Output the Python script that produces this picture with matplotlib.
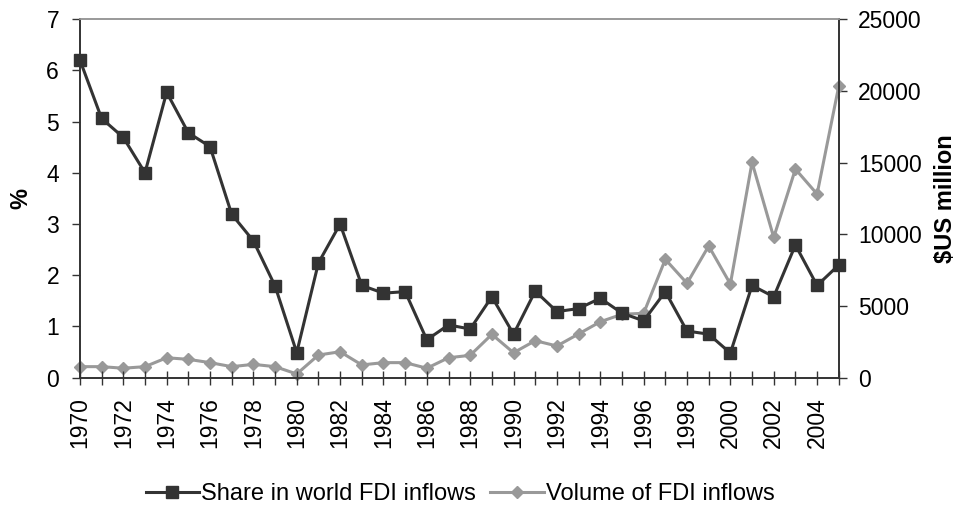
import matplotlib
matplotlib.use("Agg")
import matplotlib.pyplot as plt
from matplotlib.lines import Line2D

years = list(range(1970, 2006))
share = [6.2, 5.06, 4.69, 4.0, 5.57, 4.78, 4.51, 3.19, 2.67, 1.79,
         0.49, 2.24, 3.0, 1.80, 1.65, 1.68, 0.74, 1.03, 0.95, 1.58,
         0.85, 1.69, 1.29, 1.35, 1.55, 1.26, 1.11, 1.68, 0.91, 0.85,
         0.48, 1.80, 1.58, 2.59, 1.80, 2.20]
volume = [770, 770, 660, 770, 1390, 1280, 1050, 770, 930, 770,
          260, 1580, 1810, 890, 1050, 1050, 660, 1390, 1560, 3020,
          1740, 2580, 2210, 3050, 3900, 4420, 4490, 8250, 6580, 9180,
          6530, 15010, 9780, 14540, 12800, 20330]
xtick_years = list(range(1970, 2005, 2))

dark = "#333333"
grey = "#999999"

plt.rcParams["font.family"] = ["Liberation Sans", "DejaVu Sans"]
plt.rcParams["font.size"] = 16.5

fig = plt.figure(figsize=(9.63, 5.08), dpi=100)
ax = fig.add_axes([0.083, 0.2565, 0.788, 0.706])
ax2 = ax.twinx()

ax.plot(years, share, color=dark, lw=2.2, marker="s", ms=8.5, zorder=3,
        clip_on=False)
ax2.plot(years, volume, color=grey, lw=2.2, marker="D", ms=6.5, zorder=2,
         clip_on=False)
ax.set_zorder(ax2.get_zorder() + 1)
ax.patch.set_visible(False)

ax.set_xlim(1970, 2005)
ax.set_ylim(0, 7)
ax2.set_ylim(0, 25000)
ax.set_yticks(range(0, 8))
ax2.set_yticks(range(0, 25001, 5000))
ax.set_xticks(years, minor=True)
ax.set_xticks(xtick_years)
ax.set_xticklabels([str(y) for y in xtick_years], rotation=90)
ax.tick_params(axis="x", which="both", direction="inout", length=10,
               color=dark, width=1, pad=9)
ax.tick_params(axis="y", direction="out", length=6, color=dark, width=1,
               pad=9)
ax2.tick_params(axis="y", direction="out", length=6, color=dark, width=1,
                pad=8)

for a in (ax, ax2):
    a.spines["top"].set_color(grey)
    a.spines["top"].set_linewidth(1.2)
    for s in ("left", "right", "bottom"):
        a.spines[s].set_color(dark)
        a.spines[s].set_linewidth(1.2)

ax.set_ylabel("%", fontweight="bold", fontsize=17, labelpad=10)
ax2.set_ylabel("$US million", fontweight="bold", fontsize=17, labelpad=9)

handles = [Line2D([], [], color=dark, lw=2.2, marker="s", ms=8.5),
           Line2D([], [], color=grey, lw=2.2, marker="D", ms=6.5)]
fig.legend(handles, ["Share in world FDI inflows", "Volume of FDI inflows"],
           loc="center", bbox_to_anchor=(0.478, 0.027), ncol=2, frameon=False,
           fontsize=17, handlelength=2.25, handletextpad=0.1,
           columnspacing=0.6)

fig.savefig("out.png", dpi=100)
